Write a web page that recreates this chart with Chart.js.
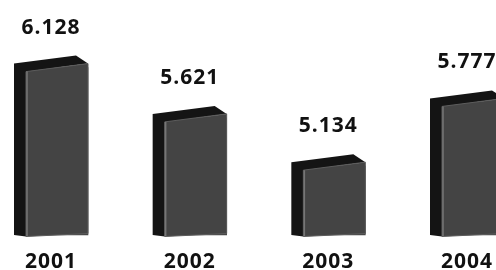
<!DOCTYPE html>
<html lang="en">
<head>
    <meta charset="UTF-8">
    <title>2001-2004</title>
    <script src="https://cdn.jsdelivr.net/npm/chart.js"></script>
    <style>
        body {
            margin: 0;
            background: #fff;
        }
        canvas {
            display: block;
        }
    </style>
</head>
<body>
    <canvas id="barChart" width="496" height="270"></canvas>

    <script>
        const years = ['2001', '2002', '2003', '2004'];
        const values = [6.128, 5.621, 5.134, 5.777];
        const yMin = 4.44;
        const yMax = 6.81;

        const labelFont = 'bold 21px "Open Sans"';

        // draws the dark side/top and the slanted front face on top of each bar
        const boxPlugin = {
            id: 'box3d',
            beforeDraw(chart) {
                chart.ctx.letterSpacing = '1px';
            },
            afterDatasetsDraw(chart) {
                const ctx = chart.ctx;
                const meta = chart.getDatasetMeta(0);
                meta.data.forEach((bar, i) => {
                    const p = bar.getProps(['x', 'y', 'base', 'width'], true);
                    const x0 = p.x - p.width / 2;
                    const x1 = p.x + p.width / 2;
                    const yt = p.y;
                    const yb = p.base;
                    const dx = 12, dy = 8, s = 4;

                    ctx.save();
                    // side and top
                    ctx.fillStyle = '#141414';
                    ctx.beginPath();
                    ctx.moveTo(x0, yb + 1.5);
                    ctx.lineTo(x0 - dx, yb);
                    ctx.lineTo(x0 - dx, yt + s - dy);
                    ctx.lineTo(x1 - dx, yt - s - dy);
                    ctx.lineTo(x1, yt - s);
                    ctx.lineTo(x0, yt + s);
                    ctx.closePath();
                    ctx.fill();

                    // front
                    ctx.fillStyle = '#444';
                    ctx.strokeStyle = '#5c5c5c';
                    ctx.lineWidth = 1;
                    ctx.beginPath();
                    ctx.moveTo(x0, yt + s);
                    ctx.lineTo(x1, yt - s);
                    ctx.lineTo(x1, yb - 1.5);
                    ctx.lineTo(x0, yb + 1.5);
                    ctx.closePath();
                    ctx.fill();
                    ctx.stroke();

                    // light edge on the left of the front
                    ctx.strokeStyle = '#767676';
                    ctx.lineWidth = 1.5;
                    ctx.beginPath();
                    ctx.moveTo(x0 + 1, yt + s);
                    ctx.lineTo(x0 + 1, yb + 1);
                    ctx.stroke();

                    // value above the box
                    ctx.fillStyle = '#111';
                    ctx.font = labelFont;
                    ctx.textAlign = 'center';
                    ctx.textBaseline = 'alphabetic';
                    ctx.fillText(values[i].toFixed(3), p.x - 6, yt - 34);
                    ctx.restore();
                });
            }
        };

        const ctx = document.getElementById('barChart').getContext('2d');
        new Chart(ctx, {
            type: 'bar',
            data: {
                labels: years,
                datasets: [{
                    data: values,
                    base: yMin,
                    backgroundColor: '#444',
                    barThickness: 62,
                    clip: false
                }]
            },
            plugins: [boxPlugin],
            options: {
                responsive: false,
                animation: false,
                layout: {
                    padding: { left: 57, right: 23, top: 0, bottom: 0 }
                },
                plugins: {
                    legend: { display: false },
                    tooltip: { enabled: false }
                },
                scales: {
                    x: {
                        offset: false,
                        grid: { display: false },
                        border: { display: false },
                        ticks: {
                            labelOffset: -6,
                            padding: 6,
                            autoSkip: false,
                            maxRotation: 0,
                            color: '#111',
                            font: { family: '"Open Sans"', size: 21, weight: 'bold' }
                        },
                        afterFit(scale) {
                            scale.height = 35;
                            scale.paddingLeft = 0;
                            scale.paddingRight = 0;
                        }
                    },
                    y: {
                        display: false,
                        min: yMin,
                        max: yMax
                    }
                }
            }
        });
    </script>
</body>
</html>
